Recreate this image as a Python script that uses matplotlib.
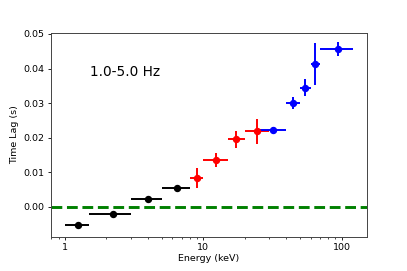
import numpy as np
import matplotlib
matplotlib.use("Agg")
import matplotlib.pyplot as plt
from matplotlib.ticker import FuncFormatter

# energy bins (keV), lags (s)
black_e = [1.25, 2.24, 4.0, 6.5]
black_lo = [1.0, 1.5, 3.0, 5.0]
black_hi = [1.5, 3.0, 5.0, 8.0]
black_lag = [-0.0053, -0.0021, 0.0022, 0.0053]
black_err = [0.0004, 0.0004, 0.0004, 0.0004]

red_e = [9.0, 12.4, 17.4, 24.6]
red_lo = [8.0, 10.0, 15.0, 20.0]
red_hi = [10.0, 15.0, 20.0, 30.0]
red_lag = [0.0082, 0.0135, 0.0195, 0.0218]
red_err = [0.0029, 0.0021, 0.0024, 0.0037]

blue_e = [32.0, 44.3, 54.4, 64.2, 93.7]
blue_lo = [25.0, 40.0, 50.0, 60.0, 70.0]
blue_hi = [40.0, 50.0, 60.0, 70.0, 120.0]
blue_lag = [0.0223, 0.0300, 0.0345, 0.0413, 0.0456]
blue_err = [0.0008, 0.0017, 0.0025, 0.0060, 0.0020]

fig = plt.figure(figsize=(4.07, 2.71), dpi=100)
ax = fig.add_axes([0.1245, 0.1266, 0.7765, 0.7505])

ax.axhline(0, color='green', linestyle='--', linewidth=2.1, zorder=1)

for e, lo, hi, lag, err, c in [
    (black_e, black_lo, black_hi, black_lag, black_err, 'k'),
    (red_e, red_lo, red_hi, red_lag, red_err, 'r'),
    (blue_e, blue_lo, blue_hi, blue_lag, blue_err, 'b'),
]:
    e = np.array(e)
    xerr = [e - np.array(lo), np.array(hi) - e]
    ax.errorbar(e, lag, xerr=xerr, yerr=err, fmt='o', color=c, ms=4.3,
                elinewidth=1.4, capsize=0, zorder=3)

ax.set_xscale('log')
ax.set_xlim(0.79, 152)
ax.set_ylim(-0.0087, 0.0502)
ax.set_yticks([0.0, 0.01, 0.02, 0.03, 0.04, 0.05])
ax.xaxis.set_major_formatter(FuncFormatter(lambda v, p: '%g' % v))

ax.text(1.52, 0.0389, '1.0-5.0 Hz', fontsize=9.8, va='center', ha='left')

ax.set_xlabel('Energy (keV)', fontsize=6.8, labelpad=1.5)
ax.set_ylabel('Time Lag (s)', fontsize=6.8, labelpad=3)
ax.tick_params(axis='both', which='major', labelsize=6.8, length=2.5, width=0.6, pad=2)
ax.tick_params(axis='both', which='minor', length=1.5, width=0.5)
for s in ax.spines.values():
    s.set_linewidth(0.7)
    s.set_color('#444444')

fig.savefig('out.png', dpi=100)
